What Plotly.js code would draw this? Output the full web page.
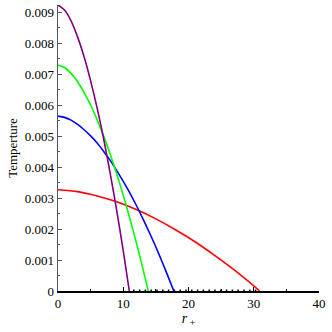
<!DOCTYPE html>
<html>
<head>
<meta charset="utf-8">
<script src="https://cdn.plot.ly/plotly-3.0.1.min.js"></script>
<style>html,body{margin:0;padding:0;background:#fff;}#chart{width:332px;height:332px;}</style>
</head>
<body>
<div id="chart"></div>
<script>
// Purple curve
const rPurple = [0, 1, 2, 3, 4, 5, 6, 7, 8, 9, 10, 10.93];
const tPurple = [0.00924, 0.00908, 0.00873, 0.00821, 0.00757, 0.00679, 0.00591, 0.00491, 0.00380, 0.00260, 0.00130, 0];
// Green curve
const rGreen = [0, 1, 2, 3, 4, 5, 6, 7, 8, 9, 10, 11, 12, 13, 13.83];
const tGreen = [0.00730, 0.00722, 0.00703, 0.00676, 0.00641, 0.00601, 0.00553, 0.00501, 0.00442, 0.00378, 0.00309, 0.00235, 0.00157, 0.00073, 0];
// Blue curve
const rBlue = [0, 1, 2, 3, 4, 5, 6, 7, 8, 9, 10, 11, 12, 13, 14, 15, 16, 17, 17.75];
const tBlue = [0.00565, 0.00561, 0.00552, 0.00538, 0.00521, 0.00501, 0.00478, 0.00451, 0.00422, 0.00389, 0.00354, 0.00317, 0.00277, 0.00234, 0.00189, 0.00142, 0.00092, 0.00040, 0];
// Red curve
const rRed = [0, 3, 6, 9, 12, 15, 18, 21, 24, 27, 29, 30.9];
const tRed = [0.00327, 0.00321, 0.00307, 0.00288, 0.00263, 0.00233, 0.00198, 0.00159, 0.00115, 0.00068, 0.00034, 0];
// Dotted zero segment
const rZero = [11.5, 30.9];
const tZero = [0, 0];

const xTicks = [0, 10, 20, 30, 40];
const yTicks = [0, 0.001, 0.002, 0.003, 0.004, 0.005, 0.006, 0.007, 0.008, 0.009];
const yTickText = ['0', '0.001', '0.002', '0.003', '0.004', '0.005', '0.006', '0.007', '0.008', '0.009'];

function curve(x, y, color) {
  return {x: x, y: y, mode: 'lines', type: 'scatter', line: {color: color, width: 1.6, shape: 'spline', smoothing: 0.8}, hoverinfo: 'skip', cliponaxis: true};
}

const data = [
  {x: rZero, y: tZero, mode: 'lines', type: 'scatter', line: {color: '#000', width: 3, dash: '1.5px,4.3px'}, hoverinfo: 'skip'},
  curve(rRed, tRed, '#ff0000'),
  curve(rBlue, tBlue, '#0000ff'),
  curve(rGreen, tGreen, '#00ff00'),
  curve(rPurple, tPurple, '#800080')
];

const fam = '"Liberation Serif", "Times New Roman", serif';
const font = {family: fam, size: 13, color: '#000'};

const layout = {
  width: 332, height: 332,
  margin: {l: 58, r: 13, t: 5, b: 41},
  paper_bgcolor: '#fff', plot_bgcolor: '#fff',
  showlegend: false,
  font: font,
  xaxis: {
    range: [0, 40], tickvals: xTicks, ticktext: xTicks.map(String),
    ticks: 'inside', ticklen: 4, tickwidth: 1, tickcolor: '#000',
    minor: {dtick: 5, tick0: 0, ticks: 'inside', ticklen: 2, tickcolor: '#000'},
    showline: true, linecolor: '#000', linewidth: 1.5,
    showgrid: false, zeroline: false, layer: 'below traces',
    tickfont: font,
    title: {text: '<i>r</i><sub> +</sub>', font: {family: fam, size: 14, color: '#000'}, standoff: 2}
  },
  yaxis: {
    range: [0, 0.00924], tickvals: yTicks, ticktext: yTickText,
    ticks: 'inside', ticklen: 4, tickwidth: 1, tickcolor: '#555',
    minor: {dtick: 0.0005, tick0: 0, ticks: 'inside', ticklen: 2, tickcolor: '#555'},
    showline: true, linecolor: '#555', linewidth: 1.5,
    showgrid: false, zeroline: false, layer: 'below traces',
    tickfont: font,
    title: {text: 'Temperture', font: {family: fam, size: 13, color: '#000'}, standoff: 4}
  }
};

Plotly.newPlot('chart', data, layout, {staticPlot: true, displayModeBar: false});
</script>
</body>
</html>
